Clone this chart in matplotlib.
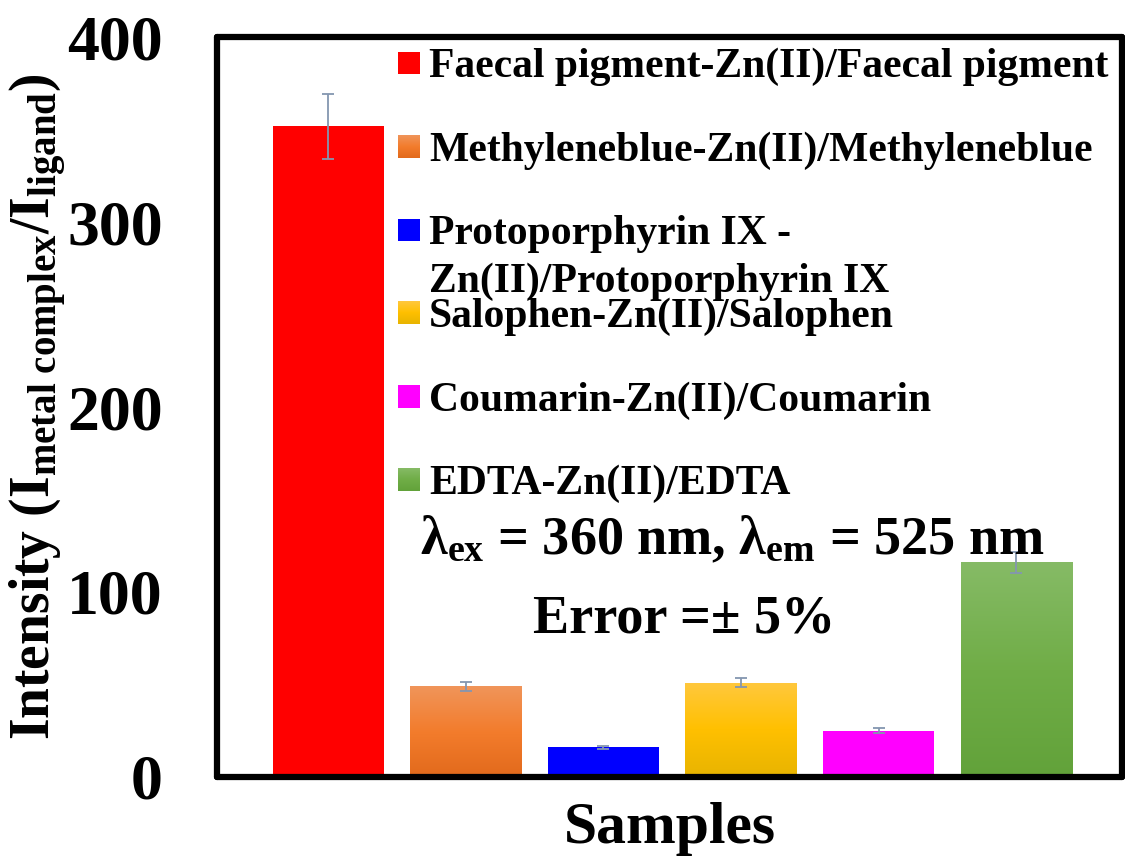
import numpy as np
import matplotlib
matplotlib.use("Agg")
import matplotlib.pyplot as plt
from matplotlib.patches import Rectangle
from matplotlib.colors import LinearSegmentedColormap

# data
samples = ["Faecal pigment-Zn(II)/Faecal pigment",
           "Methyleneblue-Zn(II)/Methyleneblue",
           "Protoporphyrin IX -\nZn(II)/Protoporphyrin IX",
           "Salophen-Zn(II)/Salophen",
           "Coumarin-Zn(II)/Coumarin",
           "EDTA-Zn(II)/EDTA"]
intensity = [352, 49, 16, 51, 25, 116]
error_pct = 5
yticks = [0, 100, 200, 300, 400]

# fill colours: (top, middle, bottom); solid bars use the same colour 3 times
fills = [("#FF0000", "#FF0000", "#FF0000"),
         ("#F0955A", "#F37C2C", "#E26A1C"),
         ("#0000FF", "#0000FF", "#0000FF"),
         ("#FFC83E", "#FFC000", "#E8B400"),
         ("#FF00FF", "#FF00FF", "#FF00FF"),
         ("#86BB66", "#70AD47", "#62A23A")]

plt.rcParams['font.family'] = ['Liberation Serif', 'DejaVu Serif']
plt.rcParams['font.weight'] = 'bold'
plt.rcParams['mathtext.fontset'] = 'custom'
plt.rcParams['mathtext.rm'] = 'Liberation Serif:bold'
plt.rcParams['mathtext.bf'] = 'Liberation Serif:bold'
plt.rcParams['mathtext.it'] = 'Liberation Serif:bold:italic'


def gradient_fill(ax, x0, y0, w, h, cols, clip=None, transform=None):
    cmap = LinearSegmentedColormap.from_list('g', [cols[2], cols[1], cols[0]])
    grad = np.linspace(0, 1, 256).reshape(-1, 1)
    im = ax.imshow(grad, cmap=cmap, origin='lower', aspect='auto',
                   extent=[x0, x0 + w, y0, y0 + h], zorder=2.5,
                   interpolation='bilinear',
                   transform=transform if transform is not None else ax.transData)
    if clip is not None:
        im.set_clip_path(clip)
    return im


fig = plt.figure(figsize=(11.25, 8.68), dpi=100)
ax = fig.add_axes([0.193, 0.105, 0.8045, 0.852])

x = np.arange(len(intensity))
bars = ax.bar(x, intensity, width=0.807, color=[c[1] for c in fills], zorder=2)
for b, cols in zip(bars, fills):
    if cols[0] != cols[2]:
        gradient_fill(ax, b.get_x(), b.get_y(), b.get_width(), b.get_height(), cols, clip=b)

err = [v * error_pct / 100 for v in intensity]
ax.errorbar(x, intensity, yerr=err, fmt='none', ecolor='#8496B0',
            elinewidth=1.3, capsize=4, capthick=1.3, zorder=4)

ax.set_xlim(-0.807, 5.77)
ax.set_ylim(0, 400)
ax.set_xticks([])
ax.set_yticks(yticks)
ax.tick_params(axis='y', length=0, pad=39, labelsize=46)
for s in ax.spines.values():
    s.set_linewidth(4.5)
    s.set_color('black')
    s.set_capstyle('round')
    s.set_joinstyle('round')

ax.set_ylabel(r'Intensity (I$_{\mathbf{metal\ complex}}$/I$_{\mathbf{ligand}}$)',
              fontsize=40, fontweight='bold', va='center')
ax.yaxis.set_label_coords(-0.198, 0.5)
ax.set_xlabel('Samples', fontsize=43, fontweight='bold', labelpad=18)

# legend drawn by hand, one entry every ~83 px
leg_top = 0.965
leg_step = 0.1127
line_gap = 0.065
for i, (lab, cols) in enumerate(zip(samples, fills)):
    yc = leg_top - i * leg_step
    sq = Rectangle((0.200, yc - 0.015), 0.0243, 0.030, transform=ax.transAxes,
                   facecolor=cols[1], edgecolor='none', zorder=5)
    ax.add_patch(sq)
    if cols[0] != cols[2]:
        im = gradient_fill(ax, 0.200, yc - 0.015, 0.0243, 0.030, cols,
                           transform=ax.transAxes)
        im.set_zorder(6)
    for j, line in enumerate(lab.split('\n')):
        ax.text(0.234, yc - 0.019 - j * line_gap, line, transform=ax.transAxes,
                fontsize=30, fontweight='bold', ha='left', va='baseline', zorder=7)

ax.text(0.569, 0.301, r'λ$_{\mathbf{ex}}$ = 360 nm, λ$_{\mathbf{em}}$ = 525 nm',
        transform=ax.transAxes, fontsize=39, fontweight='bold',
        ha='center', va='baseline', zorder=7)
ax.text(0.516, 0.195, 'Error =± 5%', transform=ax.transAxes, fontsize=39,
        fontweight='bold', ha='center', va='baseline', zorder=7)

ax.set_xlim(-0.807, 5.77)
ax.set_ylim(0, 400)

fig.savefig('out.png', dpi=100)
